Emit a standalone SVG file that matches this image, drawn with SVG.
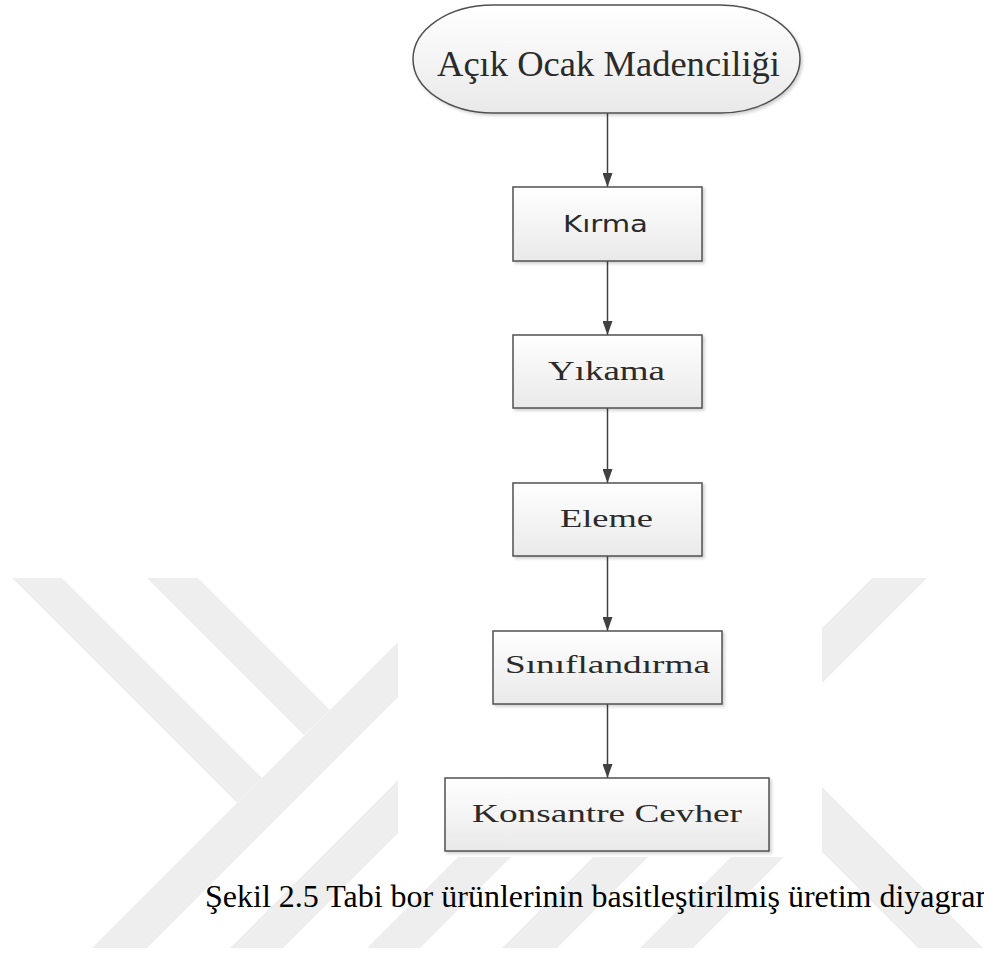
<svg xmlns="http://www.w3.org/2000/svg" width="984" height="954" viewBox="0 0 984 954">
<defs>
<linearGradient id="fillGrad" x1="0" y1="0" x2="0" y2="1">
<stop offset="0" stop-color="#ffffff"/>
<stop offset="1" stop-color="#e9e9e9"/>
</linearGradient>
<filter id="shadow" x="-10%" y="-10%" width="120%" height="130%">
<feDropShadow dx="2" dy="2" stdDeviation="1.5" flood-color="#000000" flood-opacity="0.18"/>
</filter>
<marker id="arrow" viewBox="0 0 14 10" refX="14" refY="5" markerWidth="14" markerHeight="10" markerUnits="userSpaceOnUse" orient="auto">
<path d="M0,0 L14,5 L0,10 Z" fill="#404040"/>
</marker>
<style>
.wm { fill: #eeeeee; }
.node { fill: url(#fillGrad); stroke: #505050; stroke-width: 1.5; filter: url(#shadow); }
.serif { font-family: "Liberation Serif", "Times New Roman", serif; fill: #2a2a2a; }
.sans { font-family: "DejaVu Sans", Verdana, sans-serif; fill: #2a2a2a; }
.edge { stroke: #404040; stroke-width: 1.5; fill: none; marker-end: url(#arrow); }
.caption { font-family: "Liberation Serif", "Times New Roman", serif; font-size: 32px; fill: #000000; }
</style>
</defs>
<rect x="0" y="0" width="984" height="954" fill="#ffffff"/>
<g id="watermark">
<polygon class="wm" points="12,578 62,578 262,778 237,803"/>
<polygon class="wm" points="147,578 198,578 330,710 304,735"/>
<polygon class="wm" points="92,948 147,948 517,578 462,578"/>
<polygon class="wm" points="230,948 283,948 653,578 600,578"/>
<polygon class="wm" points="367,948 420,948 790,578 737,578"/>
<polygon class="wm" points="502,948 557,948 927,578 872,578"/>
<polygon class="wm" points="640,948 693,948 784,857 731,857"/>
<polygon class="wm" points="780,745 983,948 918,948 780,810"/>
</g>
<rect x="398" y="0" width="424" height="857" fill="#ffffff"/>
<g id="connectors">
<line class="edge" x1="607.5" y1="113" x2="607.5" y2="187"/>
<line class="edge" x1="607.5" y1="261" x2="607.5" y2="335"/>
<line class="edge" x1="607.5" y1="408" x2="607.5" y2="483"/>
<line class="edge" x1="607.5" y1="556" x2="607.5" y2="631"/>
<line class="edge" x1="607.5" y1="704" x2="607.5" y2="778"/>
</g>
<g id="node-acik-ocak">
<rect class="node" x="413" y="5" width="387" height="108" rx="80" ry="54"/>
<text class="serif" x="437" y="76" font-size="36" textLength="343" lengthAdjust="spacingAndGlyphs">Açık Ocak Madenciliği</text>
</g>
<g id="node-kirma">
<rect class="node" x="513" y="187" width="189" height="74"/>
<text class="sans" x="563" y="232" font-size="23" textLength="85" lengthAdjust="spacingAndGlyphs">Kırma</text>
</g>
<g id="node-yikama">
<rect class="node" x="513" y="335" width="189" height="73"/>
<text class="serif" x="548" y="380" font-size="27" textLength="117" lengthAdjust="spacingAndGlyphs">Yıkama</text>
</g>
<g id="node-eleme">
<rect class="node" x="513" y="483" width="189" height="73"/>
<text class="serif" x="560" y="527" font-size="26" textLength="93" lengthAdjust="spacingAndGlyphs">Eleme</text>
</g>
<g id="node-siniflandirma">
<rect class="node" x="493" y="631" width="229" height="73"/>
<text class="serif" x="505" y="673" font-size="26" textLength="205" lengthAdjust="spacingAndGlyphs">Sınıflandırma</text>
</g>
<g id="node-konsantre">
<rect class="node" x="445" y="778" width="324" height="73"/>
<text class="serif" x="472" y="822" font-size="26" textLength="270" lengthAdjust="spacingAndGlyphs">Konsantre Cevher</text>
</g>
<text class="caption" x="205" y="907">Şekil 2.5 Tabi bor ürünlerinin basitleştirilmiş üretim diyagramı</text>
</svg>
